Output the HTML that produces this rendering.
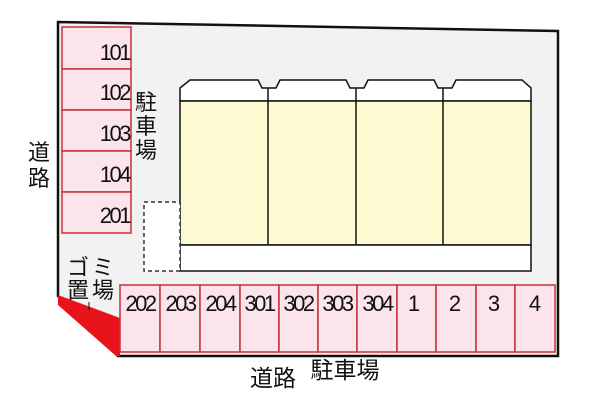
<!DOCTYPE html>
<html><head><meta charset="utf-8"><style>
html,body{margin:0;padding:0;background:#fff;width:600px;height:400px;overflow:hidden}
svg text{font-family:"Liberation Sans","Noto Sans CJK JP",sans-serif;fill:#111}
</style></head><body>
<svg width="600" height="400" viewBox="0 0 600 400">
<polygon points="58,22 558,31 558,356 118,356 58,296" fill="#f2f2f2" stroke="#111" stroke-width="2.5"/>
<polygon points="58,295 120,318 120,356 116,356 58,305" fill="#e8141a"/>
<g fill="#fce4ec" stroke="#c8303a" stroke-width="1.5">
<rect x="62" y="27" width="69" height="42"/><rect x="62" y="69" width="69" height="41"/>
<rect x="62" y="110" width="69" height="41"/><rect x="62" y="151" width="69" height="41"/>
<rect x="62" y="192" width="69" height="41"/>
</g>
<g font-size="22" text-anchor="end" letter-spacing="-2.5">
<text x="129" y="60">101</text><text x="129" y="100">102</text><text x="129" y="141">103</text>
<text x="129" y="182">104</text><text x="129" y="223">201</text>
</g>
<g font-size="22" text-anchor="middle">
<text x="146" y="110">駐</text><text x="146" y="134">車</text><text x="146" y="158">場</text>
<text x="39" y="160">道</text><text x="39" y="186">路</text>
<text x="78" y="275">ゴ</text><text x="103" y="275">ミ</text>
<text x="78" y="298">置</text><text x="103" y="298">場</text>
</g>
<g font-size="23" text-anchor="middle">
<text x="273" y="386">道路</text><text x="345" y="378">駐車場</text>
</g>
<line x1="89" y1="302" x2="89" y2="310" stroke="#111" stroke-width="1"/>
<path d="M180,101 L180,88 L190,80 L258,80 L262,88 L276,88 L280,80 L346,80 L350,88 L364,88 L368,80 L434,80 L438,88 L452,88 L456,80 L522,80 L531,88 L531,101 Z" fill="#fff" stroke="#111" stroke-width="1.5"/>
<rect x="180" y="101" width="351" height="144" fill="#fdfad2" stroke="#111" stroke-width="1.5"/>
<rect x="180" y="245" width="351" height="26" fill="#fff" stroke="#111" stroke-width="1.5"/>
<g stroke="#111" stroke-width="1.5"><line x1="268" y1="88" x2="268" y2="245"/><line x1="356" y1="88" x2="356" y2="245"/><line x1="443" y1="88" x2="443" y2="245"/></g>
<rect x="144" y="202" width="36" height="69" fill="#fff" stroke="#333" stroke-width="1.5" stroke-dasharray="4,3"/>
<g fill="#fce4ec" stroke="#c8303a" stroke-width="1.5">
<rect x="120" y="285" width="40" height="67"/><rect x="160" y="285" width="40" height="67"/>
<rect x="200" y="285" width="40" height="67"/><rect x="240" y="285" width="39" height="67"/>
<rect x="279" y="285" width="39" height="67"/><rect x="318" y="285" width="39" height="67"/>
<rect x="357" y="285" width="40" height="67"/><rect x="397" y="285" width="39" height="67"/>
<rect x="436" y="285" width="40" height="67"/><rect x="476" y="285" width="39" height="67"/>
<rect x="515" y="285" width="40" height="67"/>
</g>
<g font-size="22" text-anchor="middle" letter-spacing="-2.5">
<text x="140" y="311">202</text><text x="180" y="311">203</text><text x="220" y="311">204</text>
<text x="259" y="311">301</text><text x="298" y="311">302</text><text x="337" y="311">303</text>
<text x="377" y="311">304</text>
</g>
<g font-size="22" text-anchor="middle">
<text x="414" y="311">1</text><text x="455" y="311">2</text><text x="494" y="311">3</text><text x="535" y="311">4</text>
</g>
</svg>
</body></html>
